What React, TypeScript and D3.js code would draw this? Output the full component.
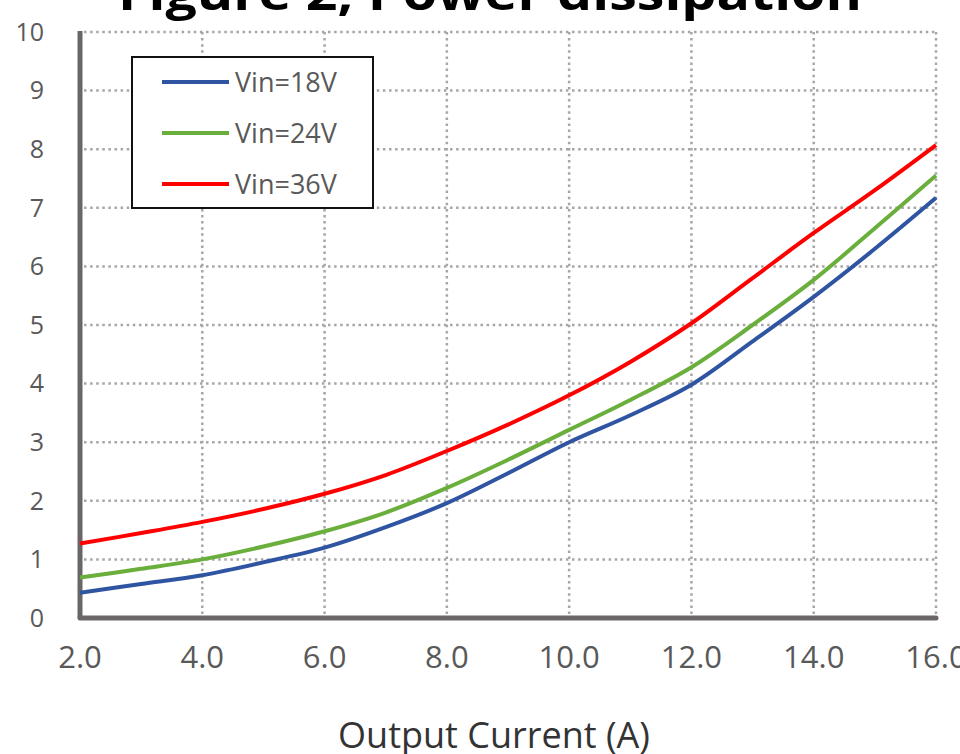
import React from "react";
import * as d3 from "d3";

const currents = [2, 3, 4, 5, 6, 7, 8, 9, 10, 11, 12, 13, 14, 15, 16];
const vin18 = [0.43, 0.58, 0.73, 0.95, 1.2, 1.55, 1.96, 2.47, 3.0, 3.46, 3.98, 4.72, 5.48, 6.3, 7.17];
const vin24 = [0.69, 0.84, 1.0, 1.22, 1.48, 1.8, 2.22, 2.7, 3.21, 3.72, 4.28, 5.0, 5.77, 6.65, 7.55];
const vin36 = [1.27, 1.45, 1.64, 1.86, 2.12, 2.44, 2.85, 3.3, 3.8, 4.37, 5.03, 5.8, 6.57, 7.3, 8.07];
const seriesNames = ["Vin=18V", "Vin=24V", "Vin=36V"];
const seriesColors = ["#2f55a2", "#6aae3c", "#ff0000"];
const xTicks = [2, 4, 6, 8, 10, 12, 14, 16];
const yTicks = [0, 1, 2, 3, 4, 5, 6, 7, 8, 9, 10];
const title = "Figure 2, Power dissipation";
const xTitle = "Output Current (A)";

export default function App() {
  const W = 960, H = 754;
  const x = d3.scaleLinear().domain([2, 16]).range([80, 936]);
  const y = d3.scaleLinear().domain([0, 10]).range([618, 32]);
  const series = [vin18, vin24, vin36];
  const line = d3
    .line<number>()
    .x((_, i) => x(currents[i]))
    .y((d) => y(d))
    .curve(d3.curveCatmullRom.alpha(0.5));
  const textColor = "#595959";
  const axisColor = "#6b6666";
  const gridColor = "#a6a6a6";
  return (
    <svg
      width={W}
      height={H}
      style={{ position: "absolute", left: 0, top: 0, background: "#fff" }}
      fontFamily="'Open Sans', sans-serif"
    >
      <rect x={0} y={0} width={W} height={H} fill="#fff" />
      {yTicks.filter((t) => t > 0).map((t) => (
        <line key={"gy" + t} x1={x(2) + 4} x2={x(16)} y1={y(t)} y2={y(t)}
          stroke={gridColor} strokeWidth={2.5} strokeDasharray="2.5 3.6" />
      ))}
      {xTicks.filter((t) => t > 2).map((t) => (
        <line key={"gx" + t} x1={x(t)} x2={x(t)} y1={y(10)} y2={y(0) - 3}
          stroke={gridColor} strokeWidth={2.5} strokeDasharray="2.5 3.6" />
      ))}
      <line x1={x(2)} x2={x(2)} y1={y(10) - 1} y2={y(0)} stroke={axisColor} strokeWidth={5} />
      <line x1={x(2)} x2={x(16)} y1={y(0)} y2={y(0)} stroke={axisColor} strokeWidth={5} strokeLinecap="round" />
      {yTicks.map((t) => (
        <text key={"yl" + t} x={44} y={y(t)} dy="0.35em" textAnchor="end" fontSize={25} fill={textColor}>
          {t}
        </text>
      ))}
      {xTicks.map((t) => (
        <text key={"xl" + t} x={x(t)} y={668} textAnchor="middle" fontSize={31} fill={textColor}>
          {t.toFixed(1)}
        </text>
      ))}
      {series.map((s, i) => (
        <path key={"s" + i} d={line(s) || ""} fill="none" stroke={seriesColors[i]} strokeWidth={4} />
      ))}
      <rect x={132} y={57} width={241} height={151} fill="#fff" stroke="#111" strokeWidth={2} />
      {seriesNames.map((n, i) => (
        <g key={"lg" + i}>
          <line x1={162} x2={229} y1={82 + i * 51} y2={82 + i * 51} stroke={seriesColors[i]} strokeWidth={4} />
          <text x={235} y={82 + i * 51} dy="0.36em" fontSize={27} fill={textColor}>{n}</text>
        </g>
      ))}
      <text x={490} y={10} textAnchor="middle" fontSize={46} fontWeight="bold" fill="#000"
        textLength={744} lengthAdjust="spacingAndGlyphs">{title}</text>
      <text x={494} y={748} textAnchor="middle" fontSize={36} fill="#333">{xTitle}</text>
    </svg>
  );
}
